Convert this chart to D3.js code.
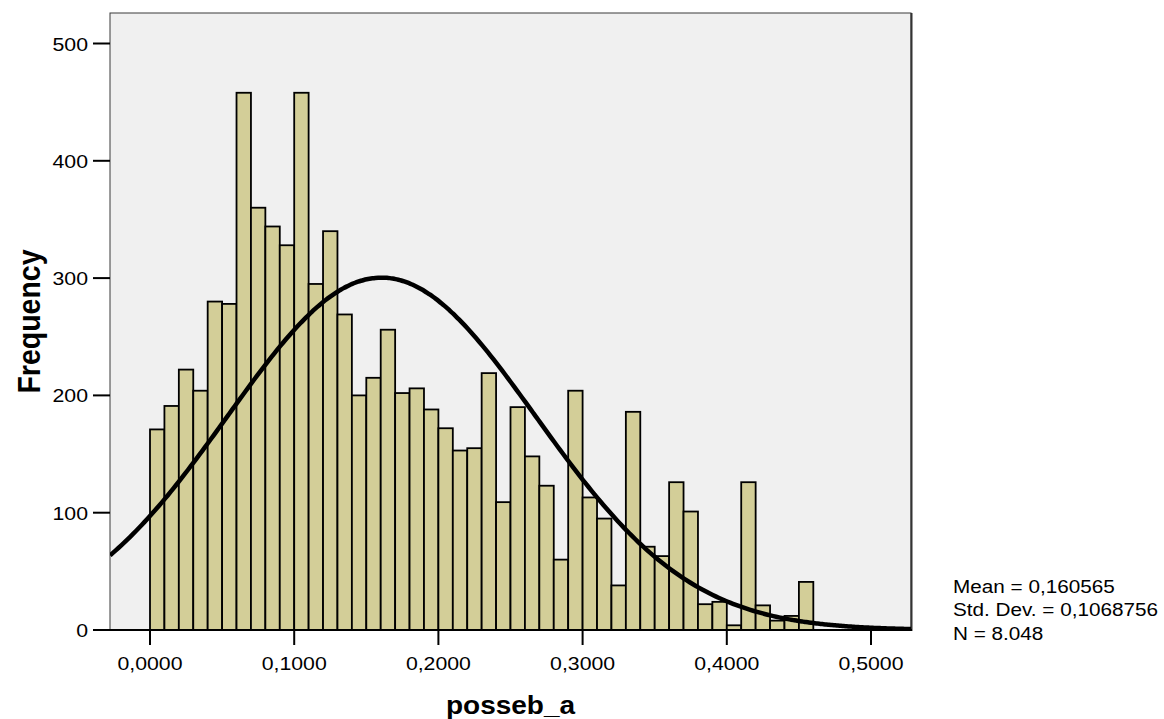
<!DOCTYPE html>
<html>
<head>
<meta charset="utf-8">
<script src="https://cdn.jsdelivr.net/npm/d3@7"></script>
<style>
  body { margin: 0; background: #fff; }
  text { font-family: "Liberation Sans", Arial, sans-serif; fill: #000; }
</style>
</head>
<body>
<script>
// histogram bins (lower edge) and counts
let binLower = [0.00, 0.01, 0.02, 0.03, 0.04, 0.05, 0.06, 0.07, 0.08, 0.09,
                0.10, 0.11, 0.12, 0.13, 0.14, 0.15, 0.16, 0.17, 0.18, 0.19,
                0.20, 0.21, 0.22, 0.23, 0.24, 0.25, 0.26, 0.27, 0.28, 0.29,
                0.30, 0.31, 0.32, 0.33, 0.34, 0.35, 0.36, 0.37, 0.38, 0.39,
                0.40, 0.41, 0.42, 0.43, 0.44, 0.45];
let counts = [171, 191, 222, 204, 280, 278, 458, 360, 344, 328,
              458, 295, 340, 269, 200, 215, 256, 202, 206, 188,
              172, 153, 155, 219, 109, 190, 148, 123, 60, 204,
              113, 95, 38, 186, 71, 63, 126, 101, 22, 24,
              4, 126, 21, 8, 12, 41];
let binWidth = 0.01;

let xTicks = [0, 0.1, 0.2, 0.3, 0.4, 0.5];
let xTickLabels = ["0,0000", "0,1000", "0,2000", "0,3000", "0,4000", "0,5000"];
let yTicks = [0, 100, 200, 300, 400, 500];

let mean = 0.160565, sd = 0.1068756, n = 8048;
let statLines = ["Mean = 0,160565", "Std. Dev. = 0,1068756", "N = 8.048"];

let width = 1164, height = 719;
let pLeft = 110, pRight = 911, pTop = 13, pBottom = 630;
let stretch = 1.12;

let svg = d3.select("body").append("svg")
  .attr("width", width).attr("height", height);

let x = d3.scaleLinear().domain([0, 0.5]).range([150, 871]);
let y = d3.scaleLinear().domain([0, 500]).range([630, 43.5]);

// plot background
svg.append("rect")
  .attr("x", pLeft).attr("y", pTop)
  .attr("width", pRight - pLeft).attr("height", pBottom - pTop)
  .style("fill", "#f0f0f0")
  .style("stroke", "#3a3a3a")
  .style("stroke-width", 1);
svg.append("line")
  .attr("x1", pRight + 0.5).attr("x2", pRight + 0.5)
  .attr("y1", pTop).attr("y2", pBottom + 1)
  .style("stroke", "#333").style("stroke-width", 2);

svg.append("defs").append("clipPath").attr("id", "plotclip")
  .append("rect")
  .attr("x", pLeft).attr("y", pTop)
  .attr("width", pRight - pLeft).attr("height", pBottom - pTop);

// bars
svg.append("g")
  .selectAll("rect")
  .data(counts)
  .enter()
  .append("rect")
    .attr("x", (d, i) => x(binLower[i]))
    .attr("y", d => y(d))
    .attr("width", (d, i) => x(binLower[i] + binWidth) - x(binLower[i]))
    .attr("height", d => y(0) - y(d))
    .style("fill", "#d3ce98")
    .style("stroke", "#000")
    .style("stroke-width", 1.8);

// fitted normal curve from the stats in the legend
let xs = d3.range(x.invert(pLeft), x.invert(pRight) + 0.002, 0.002);
let curve = xs.map(v => [v, n * binWidth / (sd * Math.sqrt(2 * Math.PI)) *
  Math.exp(-0.5 * Math.pow((v - mean) / sd, 2))]);
svg.append("path")
  .datum(curve)
  .attr("clip-path", "url(#plotclip)")
  .attr("d", d3.line().x(d => x(d[0])).y(d => y(d[1])).curve(d3.curveBasis))
  .style("fill", "none")
  .style("stroke", "#000")
  .style("stroke-width", 4.5);

// bottom axis line
svg.append("line")
  .attr("x1", pLeft).attr("x2", pRight + 1)
  .attr("y1", pBottom).attr("y2", pBottom)
  .style("stroke", "#000").style("stroke-width", 2);

// y axis ticks + labels
let yAxis = svg.append("g");
yAxis.selectAll("line").data(yTicks).enter().append("line")
  .attr("x1", 93).attr("x2", pLeft)
  .attr("y1", d => y(d)).attr("y2", d => y(d))
  .style("stroke", "#000").style("stroke-width", 2);
yAxis.selectAll("text").data(yTicks).enter().append("text")
  .attr("transform", d => "translate(88," + (y(d) + 7) + ") scale(" + stretch + ",1)")
  .attr("text-anchor", "end")
  .style("font-size", "19px")
  .text(d => d);

// x axis ticks + labels
let xAxis = svg.append("g");
xAxis.selectAll("line").data(xTicks).enter().append("line")
  .attr("x1", d => x(d)).attr("x2", d => x(d))
  .attr("y1", pBottom).attr("y2", 645)
  .style("stroke", "#000").style("stroke-width", 2);
xAxis.selectAll("text").data(xTicks).enter().append("text")
  .attr("transform", d => "translate(" + x(d) + ",670) scale(" + stretch + ",1)")
  .attr("text-anchor", "middle")
  .style("font-size", "19px")
  .text((d, i) => xTickLabels[i]);

// axis titles
svg.append("text")
  .attr("transform", "translate(" + (pLeft + pRight) / 2 + ",714) scale(" + stretch + ",1)")
  .attr("text-anchor", "middle")
  .style("font-size", "25px")
  .style("font-weight", "bold")
  .text("posseb_a");

svg.append("text")
  .attr("transform", "translate(40," + (pTop + pBottom) / 2 + ") scale(" + stretch + ",1) rotate(-90)")
  .attr("text-anchor", "middle")
  .style("font-size", "28.5px")
  .style("font-weight", "bold")
  .text("Frequency");

// stats
svg.append("g").selectAll("text").data(statLines).enter().append("text")
  .attr("transform", (d, i) => "translate(953," + (593 + i * 23.3) + ") scale(" + stretch + ",1)")
  .style("font-size", "18.5px")
  .text(d => d);
</script>
</body>
</html>
